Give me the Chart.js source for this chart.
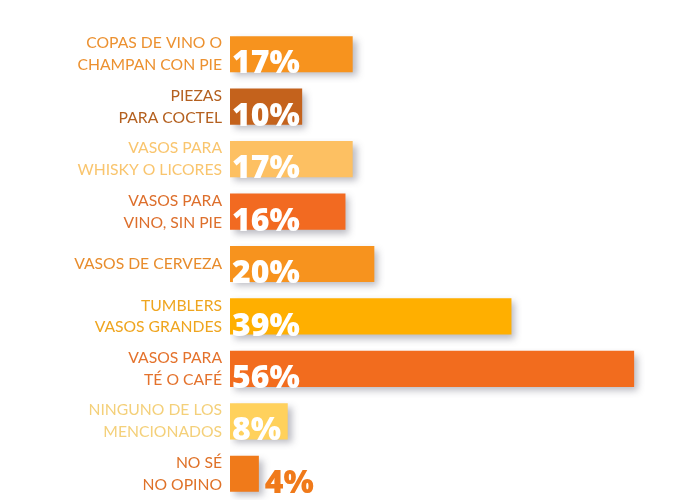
<!DOCTYPE html>
<html>
<head>
<meta charset="utf-8">
<script src="https://cdn.jsdelivr.net/npm/chart.js@4"></script>
<style>
html,body{margin:0;padding:0;background:#fff;}
#wrap{width:700px;height:500px;position:relative;}
</style>
</head>
<body>
<div id="wrap"><canvas id="c" width="700" height="500"></canvas></div>
<script>
const categories = [
  ["COPAS DE VINO O", "CHAMPAN CON PIE"],
  ["PIEZAS", "PARA COCTEL"],
  ["VASOS PARA", "WHISKY O LICORES"],
  ["VASOS PARA", "VINO, SIN PIE"],
  ["VASOS DE CERVEZA"],
  ["TUMBLERS", "VASOS GRANDES"],
  ["VASOS PARA", "TÉ O CAFÉ"],
  ["NINGUNO DE LOS", "MENCIONADOS"],
  ["NO SÉ", "NO OPINO"]
];
const values = [17, 10, 17, 16, 20, 39, 56, 8, 4];
const barColors = ["#F7931E", "#C4621C", "#FDC062", "#F26A21", "#F7931E", "#FFAF00", "#F26C1E", "#FFD15C", "#F07A1A"];
const labelColors = ["#EC9130", "#B4601F", "#F9C56E", "#DD6F2C", "#E88C2C", "#EFA51F", "#E4722C", "#F4D07A", "#DF7127"];

const shadowPlugin = {
  id: 'shadow',
  beforeDatasetsDraw(chart) {
    const ctx = chart.ctx;
    ctx.save();
    ctx.shadowColor = 'rgba(60,60,80,0.35)';
    ctx.shadowBlur = 7;
    ctx.shadowOffsetX = 4;
    ctx.shadowOffsetY = 4;
  },
  afterDatasetsDraw(chart) {
    chart.ctx.restore();
    const ctx = chart.ctx;
    const meta = chart.getDatasetMeta(0);
    ctx.save();
    ctx.font = '800 32px "Open Sans", "DejaVu Sans", sans-serif';
    ctx.textBaseline = 'alphabetic';
    ctx.textAlign = 'left';
    meta.data.forEach((bar, i) => {
      const txt = values[i] + '%';
      const w = ctx.measureText(txt).width;
      const left = bar.base;
      const bottom = bar.y + bar.height / 2;
      if (w + 4 <= bar.x - left) {
        ctx.fillStyle = '#FFFFFF';
        ctx.fillText(txt, left + 2, bottom + 1);
      } else {
        ctx.fillStyle = barColors[i];
        ctx.fillText(txt, bar.x + 6, bottom + 1);
      }
    });
    ctx.restore();
  }
};

new Chart(document.getElementById('c'), {
  type: 'bar',
  data: {
    labels: categories,
    datasets: [{
      data: values,
      backgroundColor: barColors,
      borderWidth: 0,
      barPercentage: 0.69,
      categoryPercentage: 1.0
    }]
  },
  options: {
    indexAxis: 'y',
    responsive: false,
    animation: false,
    devicePixelRatio: 1,
    layout: { padding: { top: 28, right: 37, bottom: 0, left: 0 } },
    plugins: { legend: { display: false }, tooltip: { enabled: false } },
    scales: {
      x: { display: false, min: 0, max: 60 },
      y: {
        grid: { display: false, drawTicks: false },
        border: { display: false },
        afterFit(scale) { scale.width = 230; scale.paddingTop = 0; scale.paddingBottom = 0; },
        ticks: {
          padding: 8,
          color: (c) => labelColors[c.index],
          font: { family: 'Lato, "Open Sans", sans-serif', size: 15.7, lineHeight: 1.4 },
          autoSkip: false
        }
      }
    }
  },
  plugins: [shadowPlugin]
});
</script>
</body>
</html>
